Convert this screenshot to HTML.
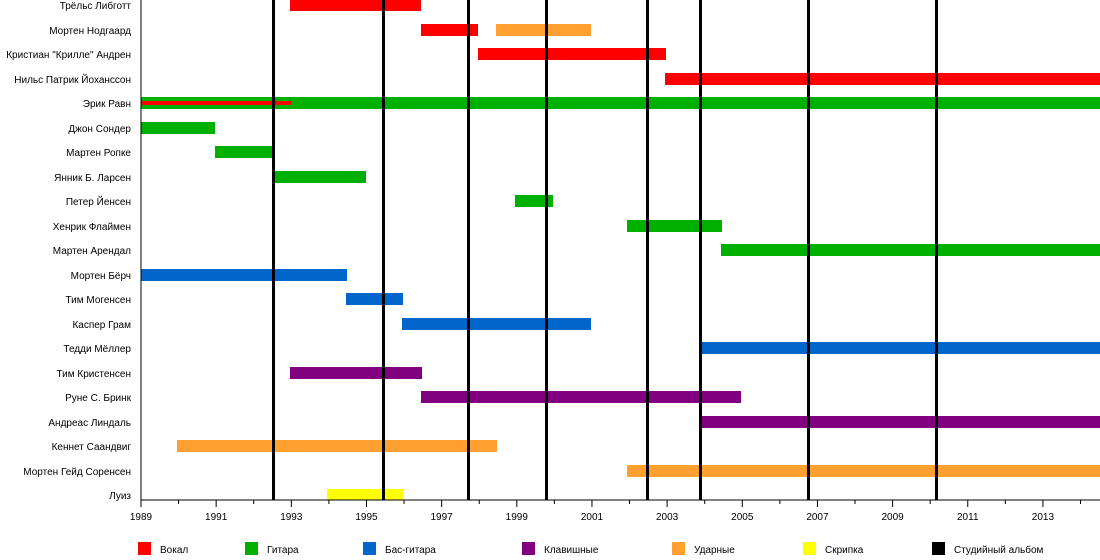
<!DOCTYPE html>
<html><head><meta charset="utf-8"><style>body{margin:0;background:#fff}svg{display:block}text{font-family:"Liberation Sans",sans-serif;font-size:10px;fill:#000}</style></head><body>
<svg width="1100" height="560" xmlns="http://www.w3.org/2000/svg">
<g text-anchor="end">
<text x="131" y="9">Трёльс Либготт</text>
<text x="131" y="34">Мортен Нодгаард</text>
<text x="131" y="58">Кристиан "Крилле" Андрен</text>
<text x="131" y="83">Нильс Патрик Йохансcон</text>
<text x="131" y="107">Эрик Равн</text>
<text x="131" y="132">Джон Сондер</text>
<text x="131" y="156">Мартен Ропке</text>
<text x="131" y="181">Янник Б. Ларсен</text>
<text x="131" y="205">Петер Йенсен</text>
<text x="131" y="230">Хенрик Флаймен</text>
<text x="131" y="254">Мартен Арендал</text>
<text x="131" y="279">Мортен Бёрч</text>
<text x="131" y="303">Тим Могенсен</text>
<text x="131" y="328">Каспер Грам</text>
<text x="131" y="352">Тедди Мёллер</text>
<text x="131" y="377">Тим Кристенсен</text>
<text x="131" y="401">Руне С. Бринк</text>
<text x="131" y="426">Андреас Линдаль</text>
<text x="131" y="450">Кеннет Саандвиг</text>
<text x="131" y="475">Мортен Гейд Соренсен</text>
<text x="131" y="499">Луиз</text>
</g>
<g>
<rect x="290" y="-1" width="131" height="12" fill="#f00"/>
<rect x="421" y="24" width="57" height="12" fill="#f00"/>
<rect x="496" y="24" width="95" height="12" fill="#ffa030"/>
<rect x="478" y="48" width="188" height="12" fill="#f00"/>
<rect x="665" y="73" width="435" height="12" fill="#f00"/>
<rect x="141" y="97" width="959" height="12" fill="#00b000"/>
<rect x="141" y="101" width="150" height="4" fill="#f00"/>
<rect x="141" y="122" width="74" height="12" fill="#00b000"/>
<rect x="215" y="146" width="57" height="12" fill="#00b000"/>
<rect x="272" y="171" width="94" height="12" fill="#00b000"/>
<rect x="515" y="195" width="38" height="12" fill="#00b000"/>
<rect x="627" y="220" width="95" height="12" fill="#00b000"/>
<rect x="721" y="244" width="379" height="12" fill="#00b000"/>
<rect x="141" y="269" width="206" height="12" fill="#0066cc"/>
<rect x="346" y="293" width="57" height="12" fill="#0066cc"/>
<rect x="402" y="318" width="189" height="12" fill="#0066cc"/>
<rect x="701" y="342" width="399" height="12" fill="#0066cc"/>
<rect x="290" y="367" width="132" height="12" fill="#800080"/>
<rect x="421" y="391" width="320" height="12" fill="#800080"/>
<rect x="701" y="416" width="399" height="12" fill="#800080"/>
<rect x="177" y="440" width="320" height="12" fill="#ffa030"/>
<rect x="627" y="465" width="473" height="12" fill="#ffa030"/>
<rect x="327" y="489" width="76" height="11" fill="#ff0"/>
</g>
<g fill="#000">
<rect x="272" y="0" width="3" height="500"/>
<rect x="382" y="0" width="3" height="500"/>
<rect x="467" y="0" width="3" height="500"/>
<rect x="545" y="0" width="3" height="500"/>
<rect x="646" y="0" width="3" height="500"/>
<rect x="699" y="0" width="3" height="500"/>
<rect x="807" y="0" width="3" height="500"/>
<rect x="935" y="0" width="3" height="500"/>
</g>
<line x1="141" y1="0" x2="141" y2="500" stroke="#000" stroke-width="1"/>
<line x1="141" y1="500" x2="1100" y2="500" stroke="#000" stroke-width="1"/>
<g stroke="#000" stroke-width="1" id="ticks"></g>
<g text-anchor="middle" id="tl"></g>
<g>
<rect x="138" y="542" width="13" height="13" fill="#f00"/><text x="160" y="553">Вокал</text>
<rect x="245" y="542" width="13" height="13" fill="#00b000"/><text x="267" y="553">Гитара</text>
<rect x="363" y="542" width="13" height="13" fill="#0066cc"/><text x="385" y="553">Бас-гитара</text>
<rect x="522" y="542" width="13" height="13" fill="#800080"/><text x="544" y="553">Клавишные</text>
<rect x="672" y="542" width="13" height="13" fill="#ffa030"/><text x="694" y="553">Ударные</text>
<rect x="803" y="542" width="13" height="13" fill="#ff0"/><text x="825" y="553">Скрипка</text>
<rect x="932" y="542" width="13" height="13" fill="#000"/><text x="954" y="553">Студийный альбом</text>
</g>
<script>
var t=document.getElementById('ticks'),l=document.getElementById('tl'),ns='http://www.w3.org/2000/svg';
for(var y=1989;y<=2014;y++){var x=141+(y-1989)*37.58;var ln=document.createElementNS(ns,'line');ln.setAttribute('x1',x);ln.setAttribute('x2',x);ln.setAttribute('y1',500);ln.setAttribute('y2',(y%2)?507:504);t.appendChild(ln);
if(y%2){var tx=document.createElementNS(ns,'text');tx.setAttribute('x',x);tx.setAttribute('y',520);tx.textContent=y;l.appendChild(tx);}}
</script>
</svg>
</body></html>
